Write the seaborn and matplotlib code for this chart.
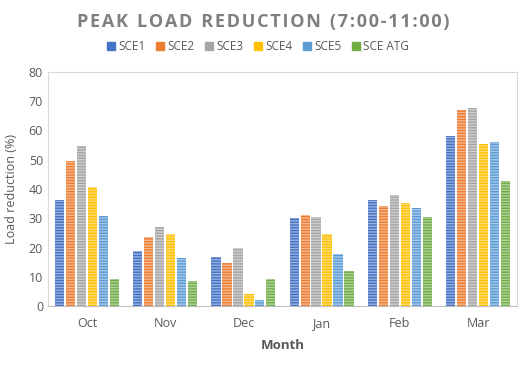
import numpy as np
import pandas as pd
import matplotlib
matplotlib.use("Agg")
import matplotlib.pyplot as plt
import matplotlib.colors as mcolors
import seaborn as sns

months = ["Oct", "Nov", "Dec", "Jan", "Feb", "Mar"]
scenarios = ["SCE1", "SCE2", "SCE3", "SCE4", "SCE5", "SCE ATG"]
sce1 = [36.2, 18.8, 16.8, 30.1, 36.2, 58.1]
sce2 = [49.7, 23.6, 14.8, 31.1, 34.3, 67.1]
sce3 = [54.7, 27.0, 19.7, 30.3, 37.9, 67.7]
sce4 = [40.8, 24.5, 4.0, 24.6, 35.3, 55.4]
sce5 = [30.8, 16.4, 2.2, 17.8, 33.6, 56.1]
sce_atg = [9.2, 8.7, 9.2, 12.0, 30.4, 42.7]
colors = ["#4472C4", "#ED7D31", "#A5A5A5", "#FFC000", "#5B9BD5", "#70AD47"]

series = [sce1, sce2, sce3, sce4, sce5, sce_atg]
df = pd.DataFrame({
    "Month": np.tile(months, len(scenarios)),
    "Scenario": np.repeat(scenarios, len(months)),
    "Value": np.concatenate(series),
})

sns.set_style("white")
plt.rcParams["font.family"] = ["Open Sans", "DejaVu Sans"]
txt = "#595959"

fig = plt.figure(figsize=(5.32, 3.67), dpi=100)
ax = fig.add_axes([0.090, 0.166, 0.882, 0.638])

sns.barplot(data=df, x="Month", y="Value", hue="Scenario", order=months,
            hue_order=scenarios, palette=colors, width=0.84, gap=0.15,
            ax=ax, legend=False, saturation=1)

# striped look of the bars
plt.rcParams["hatch.linewidth"] = 0.6
for i, cont in enumerate(ax.containers):
    light = mcolors.to_rgb(colors[i])
    light = tuple(0.55 * c + 0.45 for c in light)
    for p in cont:
        p.set_hatch("------")
        p.set_edgecolor(light)
        p.set_linewidth(0)

ax.set_ylim(0, 80)
ax.set_yticks(range(0, 81, 10))
ax.tick_params(axis="both", length=0, colors=txt, labelsize=9)
ax.tick_params(axis="x", pad=8)
ax.set_xlabel("Month", fontsize=9.5, fontweight="bold", color=txt, labelpad=6)
ax.set_ylabel("Load reduction (%)", fontsize=9, color=txt, labelpad=8)
for s in ax.spines.values():
    s.set_color("#D9D9D9")
    s.set_linewidth(0.8)
ax.spines["bottom"].set_color("#BFBFBF")

title = "PEAK LOAD REDUCTION (7:00-11:00)"
spaced = "\u200a".join(title).replace("\u200a \u200a", "\u2002")
fig.text(0.494, 0.94, spaced, ha="center", va="center", fontsize=13,
         fontweight="bold", color="#7F7F7F")

handles = [plt.Rectangle((0, 0), 1, 1, color=c) for c in colors]
fig.legend(handles, scenarios, loc="center", bbox_to_anchor=(0.485, 0.872),
           ncol=6, frameon=False, fontsize=8.5, handlelength=0.7, handleheight=0.7,
           handletextpad=0.25, columnspacing=0.9, labelcolor=txt)

fig.savefig("out.png", dpi=100, facecolor="white")
